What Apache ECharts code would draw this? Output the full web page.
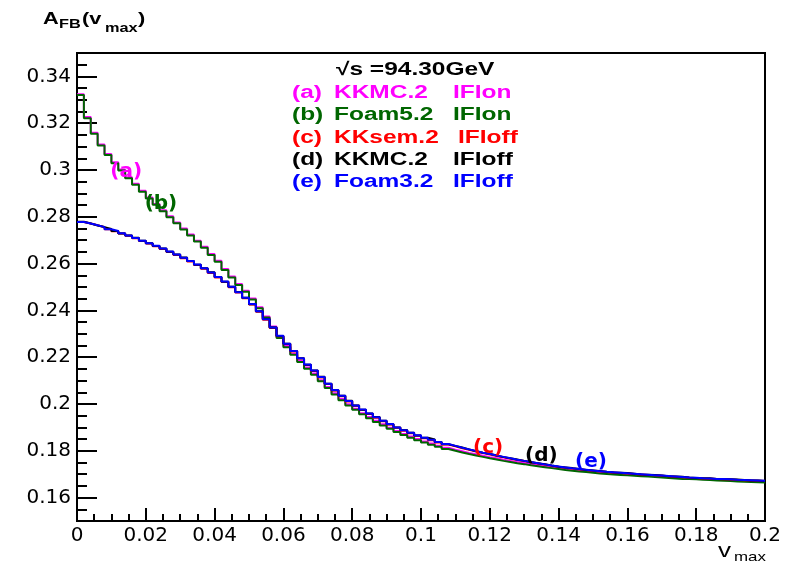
<!DOCTYPE html>
<html>
<head>
<meta charset="utf-8">
<title>A_FB(v_max)</title>
<script src="https://cdn.jsdelivr.net/npm/echarts@6/dist/echarts.min.js"></script>
<style>
  html, body { margin: 0; padding: 0; background: #fff; }
  #main { width: 785px; height: 564px; }
</style>
</head>
<body>
<div id="main"></div>
<script>
// histogram bins: 100 bins of width 0.002 from v=0 to v=0.2
const binWidth = 0.002

// (a) KKMC.2 IFIon
const kkmcIfiOn = [
  0.3324, 0.3226, 0.3159, 0.3109, 0.3068, 0.3033, 0.3002, 0.2969, 0.2941, 0.2911,
  0.2882, 0.2855, 0.2828, 0.2802, 0.2776, 0.2750, 0.2724, 0.2698, 0.2672, 0.2641,
  0.2612, 0.2577, 0.2545, 0.2513, 0.2484, 0.2451, 0.2413, 0.2374, 0.2331, 0.2287,
  0.2248, 0.2215, 0.2184, 0.2156, 0.2130, 0.2102, 0.2073, 0.2046, 0.2021, 0.1999,
  0.1980, 0.1961, 0.1944, 0.1928, 0.1913, 0.1899, 0.1885, 0.1872, 0.1861, 0.1850,
  0.1840, 0.1831, 0.1822, 0.1813, 0.1805, 0.1798, 0.1791, 0.1785, 0.1779, 0.1773,
  0.1768, 0.1762, 0.1757, 0.1752, 0.1748, 0.1743, 0.1739, 0.1735, 0.1731, 0.1727,
  0.1723, 0.1720, 0.1716, 0.1713, 0.1710, 0.1707, 0.1705, 0.1703, 0.1701, 0.1699,
  0.1697, 0.1695, 0.1694, 0.1692, 0.1690, 0.1688, 0.1686, 0.1684, 0.1683, 0.1682,
  0.1680, 0.1679, 0.1677, 0.1676, 0.1675, 0.1673, 0.1672, 0.1671, 0.1670, 0.1669
]
// (b) Foam5.2 IFIon
const foam5IfiOn = [
  0.3320, 0.3221, 0.3155, 0.3105, 0.3064, 0.3029, 0.2998, 0.2965, 0.2937, 0.2907,
  0.2878, 0.2851, 0.2824, 0.2798, 0.2772, 0.2746, 0.2720, 0.2694, 0.2668, 0.2637,
  0.2608, 0.2573, 0.2541, 0.2509, 0.2480, 0.2447, 0.2409, 0.2370, 0.2327, 0.2282,
  0.2243, 0.2210, 0.2179, 0.2151, 0.2125, 0.2097, 0.2068, 0.2041, 0.2016, 0.1994,
  0.1975, 0.1956, 0.1939, 0.1923, 0.1908, 0.1894, 0.1880, 0.1867, 0.1856, 0.1845,
  0.1835, 0.1826, 0.1817, 0.1808, 0.1800, 0.1793, 0.1786, 0.1780, 0.1774, 0.1768,
  0.1763, 0.1757, 0.1752, 0.1747, 0.1743, 0.1738, 0.1734, 0.1730, 0.1726, 0.1722,
  0.1718, 0.1715, 0.1712, 0.1709, 0.1706, 0.1703, 0.1701, 0.1699, 0.1697, 0.1695,
  0.1693, 0.1691, 0.1690, 0.1688, 0.1686, 0.1684, 0.1682, 0.1680, 0.1679, 0.1678,
  0.1676, 0.1675, 0.1673, 0.1672, 0.1671, 0.1669, 0.1668, 0.1667, 0.1666, 0.1665
]
// (c) KKsem.2 IFIoff
const kksemIfiOff = [
  0.2778, 0.2771, 0.2764, 0.2756, 0.2747, 0.2738, 0.2729, 0.2719, 0.2708, 0.2697,
  0.2686, 0.2674, 0.2662, 0.2650, 0.2637, 0.2623, 0.2609, 0.2594, 0.2578, 0.2560,
  0.2541, 0.2521, 0.2499, 0.2476, 0.2452, 0.2425, 0.2394, 0.2360, 0.2325, 0.2290,
  0.2256, 0.2224, 0.2194, 0.2167, 0.2141, 0.2113, 0.2085, 0.2058, 0.2033, 0.2011,
  0.1992, 0.1974, 0.1957, 0.1941, 0.1926, 0.1912, 0.1898, 0.1886, 0.1875, 0.1864,
  0.1854, 0.1845, 0.1836, 0.1827, 0.1819, 0.1811, 0.1804, 0.1797, 0.1790, 0.1784,
  0.1778, 0.1772, 0.1766, 0.1761, 0.1756, 0.1751, 0.1746, 0.1741, 0.1736, 0.1732,
  0.1728, 0.1724, 0.1721, 0.1718, 0.1715, 0.1712, 0.1709, 0.1707, 0.1705, 0.1703,
  0.1701, 0.1699, 0.1697, 0.1695, 0.1693, 0.1691, 0.1689, 0.1687, 0.1685, 0.1684,
  0.1682, 0.1681, 0.1679, 0.1678, 0.1677, 0.1675, 0.1674, 0.1673, 0.1672, 0.1671
]
// (d) KKMC.2 IFIoff
const kkmcIfiOff = [
  0.2779, 0.2771, 0.2763, 0.2756, 0.2748, 0.2739, 0.2729, 0.2720, 0.2710, 0.2698,
  0.2687, 0.2675, 0.2664, 0.2651, 0.2639, 0.2626, 0.2611, 0.2595, 0.2580, 0.2563,
  0.2543, 0.2522, 0.2501, 0.2479, 0.2454, 0.2426, 0.2396, 0.2363, 0.2327, 0.2291,
  0.2258, 0.2227, 0.2196, 0.2168, 0.2143, 0.2116, 0.2087, 0.2059, 0.2035, 0.2014,
  0.1994, 0.1975, 0.1959, 0.1944, 0.1928, 0.1913, 0.1900, 0.1889, 0.1877, 0.1865,
  0.1856, 0.1848, 0.1838, 0.1828, 0.1821, 0.1814, 0.1806, 0.1798, 0.1792, 0.1787,
  0.1780, 0.1773, 0.1768, 0.1763, 0.1757, 0.1751, 0.1747, 0.1743, 0.1737, 0.1732,
  0.1729, 0.1726, 0.1722, 0.1718, 0.1716, 0.1714, 0.1710, 0.1707, 0.1706, 0.1705,
  0.1702, 0.1699, 0.1698, 0.1697, 0.1694, 0.1691, 0.1690, 0.1689, 0.1686, 0.1684,
  0.1683, 0.1683, 0.1680, 0.1678, 0.1678, 0.1677, 0.1675, 0.1673, 0.1673, 0.1671
]
// (e) Foam3.2 IFIoff
const foam3IfiOff = [
  0.2778, 0.2771, 0.2764, 0.2756, 0.2747, 0.2739, 0.2730, 0.2720, 0.2709, 0.2698,
  0.2687, 0.2676, 0.2664, 0.2652, 0.2639, 0.2625, 0.2611, 0.2596, 0.2580, 0.2562,
  0.2543, 0.2523, 0.2501, 0.2478, 0.2454, 0.2427, 0.2396, 0.2362, 0.2327, 0.2292,
  0.2258, 0.2226, 0.2196, 0.2169, 0.2143, 0.2115, 0.2087, 0.2060, 0.2035, 0.2013,
  0.1994, 0.1976, 0.1959, 0.1943, 0.1928, 0.1914, 0.1900, 0.1888, 0.1877, 0.1866,
  0.1856, 0.1847, 0.1838, 0.1829, 0.1821, 0.1813, 0.1806, 0.1799, 0.1792, 0.1786,
  0.1780, 0.1774, 0.1768, 0.1762, 0.1757, 0.1752, 0.1747, 0.1742, 0.1737, 0.1733,
  0.1729, 0.1725, 0.1722, 0.1719, 0.1716, 0.1713, 0.1710, 0.1708, 0.1706, 0.1704,
  0.1702, 0.1700, 0.1698, 0.1696, 0.1694, 0.1692, 0.1690, 0.1688, 0.1686, 0.1685,
  0.1683, 0.1682, 0.1680, 0.1679, 0.1678, 0.1676, 0.1675, 0.1674, 0.1673, 0.1672
]

const curveTags = ['(a)', '(b)', '(c)', '(d)', '(e)']
const generators = ['KKMC.2', 'Foam5.2', 'KKsem.2', 'KKMC.2', 'Foam3.2']
const ifiModes = ['IFIon', 'IFIon', 'IFIoff', 'IFIoff', 'IFIoff']
const curveColors = ['#ff00ff', '#006600', '#ff0000', '#000000', '#0000ff']
const curveValues = [kkmcIfiOn, foam5IfiOn, kksemIfiOff, kkmcIfiOff, foam3IfiOff]

// where the (a)...(e) tags sit on the plot, in data units
const tagV = [0.0143, 0.0244, 0.1195, 0.1350, 0.1494]
const tagA = [0.2991, 0.2855, 0.1814, 0.1778, 0.1753]

const yMajorTicks = [0.16, 0.18, 0.2, 0.22, 0.24, 0.26, 0.28, 0.3, 0.32, 0.34]
const energyText = '\u221As =94.30GeV'

// low edge of every bin + closing point at the upper edge of the last one
function histPoints(values) {
  const pts = values.map((y, k) => [+(k * binWidth).toFixed(4), y])
  pts.push([+(values.length * binWidth).toFixed(4), values[values.length - 1]])
  return pts
}

const chart = echarts.init(document.getElementById('main'), null, { renderer: 'canvas' })

const boldFont = 'bold 18px "Liberation Sans"'
const stretch = 1.36
const graphics = []
// axis titles
graphics.push({ type: 'text', x: 43, y: 19.2, scaleX: stretch, style: { text: 'A', font: 'bold 16px "Liberation Sans"', fill: '#000', textVerticalAlign: 'middle' } })
graphics.push({ type: 'text', x: 59, y: 25, scaleX: stretch, style: { text: 'FB', font: 'bold 12px "Liberation Sans"', fill: '#000', textVerticalAlign: 'middle' } })
graphics.push({ type: 'text', x: 82, y: 19.5, scaleX: stretch, style: { text: '(v', font: 'bold 16px "Liberation Sans"', fill: '#000', textVerticalAlign: 'middle' } })
graphics.push({ type: 'text', x: 105, y: 28.8, scaleX: stretch, style: { text: 'max', font: 'bold 12px "Liberation Sans"', fill: '#000', textVerticalAlign: 'middle' } })
graphics.push({ type: 'text', x: 138, y: 19.5, scaleX: stretch, style: { text: ')', font: 'bold 16px "Liberation Sans"', fill: '#000', textVerticalAlign: 'middle' } })
graphics.push({ type: 'text', x: 718, y: 551, scaleX: 1.3, style: { text: 'v', font: '20px "Liberation Sans"', fill: '#000', textVerticalAlign: 'middle' } })
graphics.push({ type: 'text', x: 734, y: 557, scaleX: 1.3, style: { text: 'max', font: '13px "Liberation Sans"', fill: '#000', textVerticalAlign: 'middle' } })
// legend block
graphics.push({ type: 'text', x: 336, y: 70.3, scaleX: stretch, style: { text: energyText, font: boldFont, fill: '#000', textVerticalAlign: 'middle' } })
const ifiLeft = [453, 453, 458, 453, 453]
curveTags.forEach((tag, i) => {
  const y = 93.3 + 22.2 * i
  const st = { font: boldFont, fill: curveColors[i], textVerticalAlign: 'middle' }
  graphics.push({ type: 'text', x: 292, y, scaleX: stretch, style: Object.assign({ text: tag }, st) })
  graphics.push({ type: 'text', x: 334, y, scaleX: stretch, style: Object.assign({ text: generators[i] }, st) })
  graphics.push({ type: 'text', x: ifiLeft[i], y, scaleX: stretch, style: Object.assign({ text: ifiModes[i] }, st) })
})

const blackLine = { color: '#000', width: 2 }

const option = {
  animation: false,
  backgroundColor: '#fff',
  grid: {
    left: 77, right: 20, top: 53, bottom: 43,
    show: true, borderColor: '#000', borderWidth: 2,
    outerBoundsMode: 'none'
  },
  xAxis: {
    type: 'value',
    min: 0,
    max: 0.2,
    interval: 0.02,
    axisLine: { show: true, onZero: false, lineStyle: blackLine },
    axisTick: { show: true, inside: true, length: 13, lineStyle: blackLine },
    minorTick: { show: true, splitNumber: 4, length: 7, lineStyle: blackLine },
    axisLabel: { show: true, fontFamily: 'DejaVu Sans', fontSize: 20, color: '#000', margin: 5 },
    splitLine: { show: false },
    minorSplitLine: { show: false }
  },
  yAxis: [
    {
      // fine ticks every 0.005
      type: 'value',
      min: 0.15,
      max: 0.35,
      interval: 0.005,
      axisLine: { show: true, onZero: false, lineStyle: blackLine },
      axisTick: { show: true, inside: true, length: 10, lineStyle: blackLine },
      axisLabel: { show: false },
      splitLine: { show: false }
    },
    {
      // major ticks + labels
      type: 'value',
      position: 'left',
      min: 0.15,
      max: 0.35,
      axisLine: { show: false },
      axisTick: { show: true, inside: true, length: 20, customValues: yMajorTicks, lineStyle: blackLine },
      axisLabel: { show: true, customValues: yMajorTicks, fontFamily: 'DejaVu Sans', fontSize: 20, color: '#000', margin: 6 },
      splitLine: { show: false }
    }
  ],
  series: curveValues.map((vals, i) => ({
    name: curveTags[i],
    type: 'line',
    step: 'end',
    showSymbol: false,
    symbol: 'none',
    data: histPoints(vals),
    lineStyle: { color: curveColors[i], width: 2 },
    itemStyle: { color: curveColors[i] },
    silent: true
  })).concat([{
    type: 'scatter',
    symbolSize: 0,
    silent: true,
    z: 5,
    itemStyle: { opacity: 1 },
    data: curveTags.map((tag, i) => ({
      name: tag,
      value: [tagV[i], tagA[i]],
      label: { color: curveColors[i] }
    })),
    label: {
      show: true,
      opacity: 1,
      position: 'inside',
      formatter: '{b}',
      fontFamily: 'DejaVu Sans',
      fontWeight: 'bold',
      fontSize: 20
    }
  }]),
  graphic: graphics
}

chart.setOption(option)
</script>
</body>
</html>
